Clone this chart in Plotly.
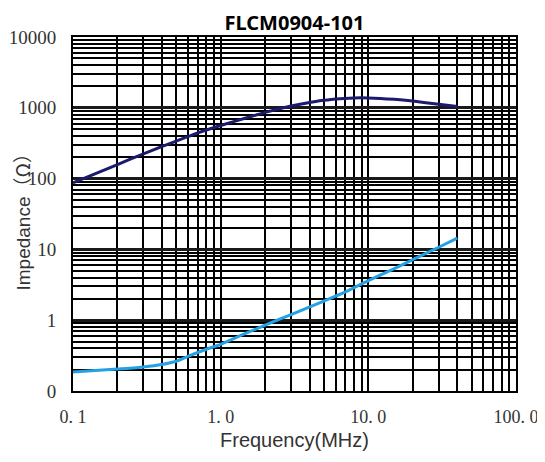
import plotly.graph_objects as go

# Data (frequency in MHz, impedance in ohm)
freq_z = [0.1, 0.2, 0.3, 0.5, 0.7, 1.0, 1.5, 2.0, 3.0, 4.0, 5.0, 6.0, 8.0, 10.0, 15.0, 20.0, 30.0, 40.0]
imp_z = [87, 158, 224, 339, 442, 562, 724, 861, 1059, 1189, 1274, 1334, 1380, 1380, 1318, 1245, 1122, 1047]

freq_r = [0.1, 0.2, 0.3, 0.4, 0.5, 0.6, 0.8, 1.0, 1.5, 2.0, 3.0, 5.0, 7.0, 10.0, 15.0, 20.0, 30.0, 40.0]
imp_r = [0.186, 0.204, 0.219, 0.237, 0.263, 0.309, 0.389, 0.457, 0.661, 0.851, 1.202, 1.862, 2.512, 3.631, 5.37, 7.16, 10.72, 14.45]

x_tickvals = [0.1, 1, 10, 100]
x_ticktext = ["0. 1", "1. 0", "10. 0", "100. 0"]
y_tickvals = [0.1, 1, 10, 100, 1000, 10000]
y_ticktext = ["0", "1", "10", "100", "1000", "10000"]

title_text = "FLCM0904-101"
x_title = "Frequency(MHz)"
y_title = "Impedance<span style='font-family:Noto Sans CJK SC'>（Ω）</span>"

# the page adds an 8px body margin, so the figure is sized/offset to compensate
W, H = 537, 454
L, T, R, B = 65, 29, 29, 71

fig = go.Figure()
fig.add_trace(go.Scatter(x=freq_z, y=imp_z, mode="lines",
                         line=dict(color="#1b1b6e", width=3, shape="spline", smoothing=0.6), showlegend=False))
fig.add_trace(go.Scatter(x=freq_r, y=imp_r, mode="lines",
                         line=dict(color="#22a2e4", width=3, shape="spline", smoothing=0.6), showlegend=False))

x_tick_font = dict(family="Liberation Serif, DejaVu Serif, serif", size=18, color="#333333")
y_tick_font = dict(family="Liberation Serif, DejaVu Serif, serif", size=19, color="#333333")

fig.update_xaxes(
    type="log", range=[-1, 2], tickvals=x_tickvals, ticktext=x_ticktext,
    showgrid=True, gridcolor="black", gridwidth=2,
    minor=dict(dtick="D1", showgrid=True, gridcolor="black", gridwidth=2, ticks=""),
    showline=True, linecolor="black", linewidth=2, mirror=True,
    ticks="", ticklabelstandoff=8, tickfont=x_tick_font, zeroline=False, automargin=False,
)
fig.update_yaxes(
    type="log", range=[-1, 4], tickvals=y_tickvals, ticktext=y_ticktext,
    showgrid=True, gridcolor="#1a1a1a", gridwidth=3,
    minor=dict(dtick="D1", showgrid=True, gridcolor="black", gridwidth=2, ticks=""),
    showline=True, linecolor="black", linewidth=2, mirror=True,
    ticks="", ticklabelstandoff=11, tickfont=y_tick_font, zeroline=False, automargin=False,
)

plot_h = H - T - B
plot_w = W - L - R

fig.update_layout(
    width=W, height=H,
    margin=dict(l=L, r=R, t=T, b=B, autoexpand=False),
    paper_bgcolor="white", plot_bgcolor="white",
    title=dict(text="<b>" + title_text + "</b>", x=0.5, xref="paper", y=1 - 15 / H, yref="container",
               xanchor="center", yanchor="middle",
               font=dict(family="Noto Sans, Open Sans, sans-serif", size=20, color="black")),
    annotations=[
        dict(text=x_title, xref="paper", yref="paper", x=0.5, y=-49 / plot_h, xanchor="center", yanchor="middle",
             showarrow=False, font=dict(family="Liberation Sans, Arial, sans-serif", size=20, color="#333333")),
        dict(text=y_title, xref="paper", yref="paper", x=-51 / plot_w, y=0.49, xanchor="center", yanchor="middle",
             textangle=-90, showarrow=False,
             font=dict(family="Liberation Sans, Arial, sans-serif", size=19, color="#333333")),
    ],
)

fig.write_html("out.html")
